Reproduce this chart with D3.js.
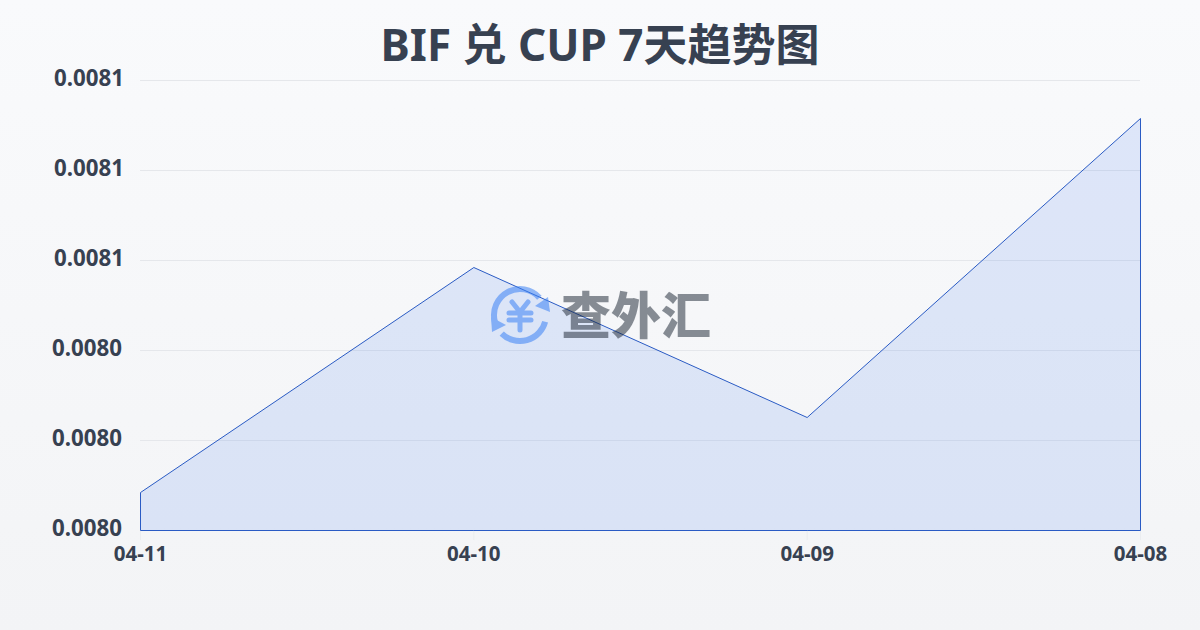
<!DOCTYPE html>
<html><head><meta charset="utf-8">
<script src="https://cdn.jsdelivr.net/npm/d3@7/dist/d3.min.js"></script>
<style>html,body{margin:0;padding:0;width:1200px;height:630px;overflow:hidden}svg{display:block}</style>
</head><body><svg id="c" width="1200" height="630"></svg>
<script>
const dates=["04-11","04-10","04-09","04-08"];
const rates=[0.00800844,0.00805844,0.00802511,0.00809156];
const yTicks=[0.0080,0.00802,0.00804,0.00806,0.00808,0.0081];
const titleText="BIF 兑 CUP 7天趋势图";
const brand="查外汇";
const font='"Noto Sans","Noto Sans CJK SC",sans-serif';
const ink="#374151";
const svg=d3.select("#c");
const defs=svg.append("defs");
const bg=defs.append("linearGradient").attr("id","bg").attr("x1",0).attr("y1",0).attr("x2",0).attr("y2",1);
bg.append("stop").attr("offset",0).attr("stop-color","#f9fafc");
bg.append("stop").attr("offset",1).attr("stop-color","#f3f4f6");
svg.append("rect").attr("width",1200).attr("height",630).attr("fill","url(#bg)");
const x=d3.scalePoint().domain(dates).range([140,1140]);
const y=d3.scaleLinear().domain([0.008,0.0081]).range([530,80]);
svg.append("text").attr("x",600).attr("y",61).attr("text-anchor","middle")
  .attr("font-family",font).attr("font-weight",700).attr("font-size",44).attr("fill",ink).text(titleText);
const gy=svg.append("g").attr("transform","translate(140,0)").call(d3.axisLeft(y).tickValues(yTicks).tickSize(0).tickFormat(d3.format(".4f")));
gy.select(".domain").remove();
gy.selectAll("line").attr("x2",1000).attr("stroke","#e5e7eb").attr("stroke-width",1);
gy.selectAll("text").attr("x",d=>d<0.00805?-18:-16).attr("dy",0).attr("y",5).attr("font-family",font).attr("font-weight",700).attr("font-size",22.3).attr("fill",ink);
const gx=svg.append("g").attr("transform","translate(0,530)").call(d3.axisBottom(x).tickSize(10));
gx.select(".domain").remove();
gx.selectAll("line").attr("stroke","#e5e7eb").attr("stroke-opacity",0.6);
gx.selectAll("text").attr("y",16).attr("dy","0.71em").attr("font-family",font).attr("font-weight",700).attr("font-size",20.5).attr("fill",ink);
const area=d3.area().x(d=>x(d.d)).y0(y(0.008)).y1(d=>y(d.v));
const pts=dates.map((d,i)=>({d,v:rates[i]}));
svg.append("path").datum(pts).attr("transform","translate(0.5,0.5)").attr("d",d=>area(d)+"Z").attr("fill","#2563eb").attr("fill-opacity",0.12).attr("stroke","#2a5bc4").attr("stroke-width",1);
// watermark
const wm=svg.append("g").attr("opacity",0.55);
const ic=wm.append("g").attr("transform","translate(520,315)").attr("fill","none").attr("stroke","#3b82f6").attr("stroke-width",6).attr("stroke-linecap","round");
const arc=d3.arc().innerRadius(26).outerRadius(26);
ic.append("path").attr("d",arc({startAngle:-1.83,endAngle:0.84}));
ic.append("path").attr("d",arc({startAngle:1.83,endAngle:3.92}));
ic.append("path").attr("fill","#3b82f6").attr("stroke","none").attr("d",d3.line()([[28,-18],[30,-3],[15,-9]])+"Z");
ic.append("path").attr("fill","#3b82f6").attr("stroke","none").attr("d",d3.line()([[-29,2],[-28,17],[-14,10]])+"Z");
ic.append("path").attr("stroke-width",5).attr("d","M-8,-13L0,-3L8,-13M-11,-2H11M-11,5H11M0,-3V15");
wm.append("text").attr("x",636).attr("y",334).attr("text-anchor","middle").attr("font-family",'"Noto Sans CJK SC"').attr("font-weight",900).attr("font-size",50).attr("fill","#1f2937").attr("fill-opacity",0.95).text(brand);
</script></body></html>
